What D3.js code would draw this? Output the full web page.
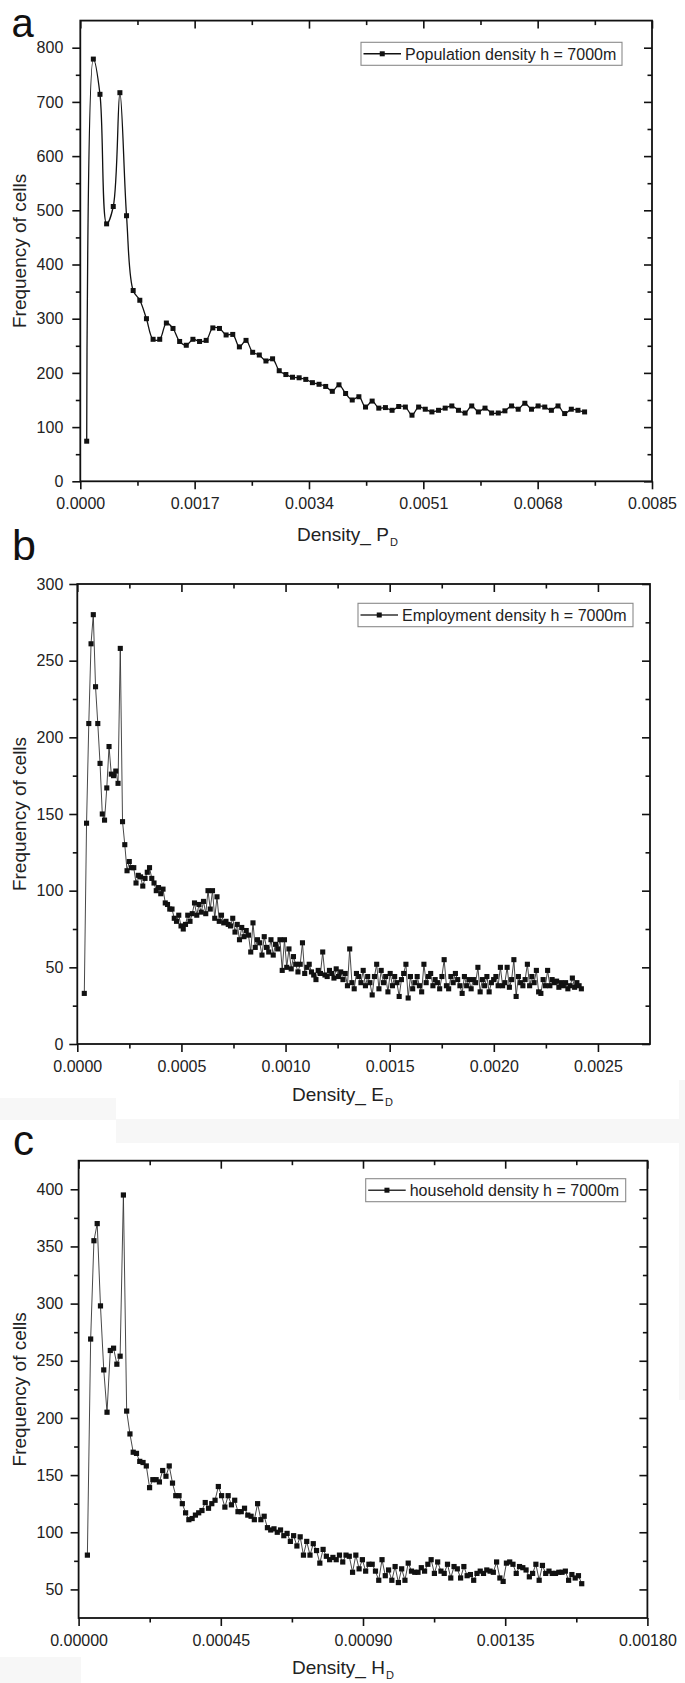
<!DOCTYPE html>
<html><head><meta charset="utf-8">
<script src="https://cdn.jsdelivr.net/npm/d3@7"></script>
<style>
body{margin:0;background:#fff;}
svg{display:block;font-family:"Liberation Sans",Arial,sans-serif;}
</style></head><body>
<svg id="chart" width="685" height="1683"></svg>
<script>
// ---------- Panel a : population density ----------
const popBinStart = 0.0000952;
const popBinWidth = 0.0000987;
const popFreq = [74, 779, 714, 475, 507, 717, 490, 352, 334, 300,
  262, 262, 292, 282, 258, 251, 262, 258, 260, 283,
  282, 270, 271, 248, 260, 238, 233, 222, 226, 204,
  197, 192, 191, 188, 182, 179, 175, 166, 178, 162,
  150, 156, 137, 148, 135, 136, 131, 138, 137, 122,
  137, 133, 128, 131, 135, 139, 131, 126, 139, 128,
  135, 126, 126, 130, 139, 133, 144, 133, 139, 137,
  131, 139, 125, 133, 131, 128];
const popXTicks = [0, 0.0017, 0.0034, 0.0051, 0.0068, 0.0085];
const popXTickLabels = ["0.0000", "0.0017", "0.0034", "0.0051", "0.0068", "0.0085"];
const popXMinor = [0.00085, 0.00255, 0.00425, 0.00595, 0.00765];
const popYTicks = [0, 100, 200, 300, 400, 500, 600, 700, 800];
const popYTickLabels = ["0", "100", "200", "300", "400", "500", "600", "700", "800"];
const popYMinor = [50, 150, 250, 350, 450, 550, 650, 750];
const popLegend = "Population density h = 7000m";

// ---------- Panel b : employment density ----------
const empBinStart = 0.0000336;
const empBinWidth = 0.0000108;
const empFreq = [33, 144, 209, 261, 280, 233, 209, 183, 150, 146,
  167, 194, 176, 175, 178, 170, 258, 145, 130, 113,
  119, 115, 115, 105, 110, 109, 103, 108, 112, 115,
  108, 105, 100, 102, 98, 101, 92, 91, 88, 88,
  82, 80, 84, 77, 75, 78, 84, 80, 85, 92,
  84, 91, 86, 93, 85, 100, 88, 100, 82, 96,
  80, 84, 79, 80, 78, 77, 82, 73, 78, 68,
  76, 70, 74, 71, 60, 79, 63, 68, 66, 58,
  70, 63, 60, 68, 58, 65, 62, 68, 48, 68,
  50, 62, 49, 57, 52, 47, 52, 66, 46, 50,
  52, 47, 45, 42, 48, 46, 60, 45, 44, 48,
  46, 43, 49, 44, 47, 42, 46, 38, 62, 40,
  36, 46, 44, 40, 48, 38, 44, 40, 32, 44,
  52, 36, 48, 40, 44, 34, 46, 38, 44, 40,
  31, 42, 46, 52, 30, 44, 36, 40, 44, 38,
  34, 52, 40, 44, 46, 38, 42, 40, 36, 44,
  55, 38, 36, 44, 40, 46, 42, 38, 33, 44,
  38, 42, 36, 42, 40, 50, 34, 42, 38, 44,
  34, 40, 42, 44, 38, 50, 38, 40, 50, 37,
  42, 55, 31, 44, 40, 38, 42, 52, 38, 44,
  40, 48, 34, 33, 42, 38, 48, 38, 42, 40,
  41, 37, 40, 38, 40, 36, 38, 43, 37, 40,
  38, 36];
const empXTicks = [0, 0.0005, 0.0010, 0.0015, 0.0020, 0.0025];
const empXTickLabels = ["0.0000", "0.0005", "0.0010", "0.0015", "0.0020", "0.0025"];
const empXMinor = [0.00025, 0.00075, 0.00125, 0.00175, 0.00225];
const empYTicks = [0, 50, 100, 150, 200, 250, 300];
const empYTickLabels = ["0", "50", "100", "150", "200", "250", "300"];
const empYMinor = [25, 75, 125, 175, 225, 275];
const empLegend = "Employment density h = 7000m";

// ---------- Panel c : household density ----------
const houseBinStart = 0.0000278;
const houseBinWidth = 0.00001036;
const houseFreq = [80, 269, 355, 370, 298, 242, 205, 259, 261, 247,
  254, 395, 206, 186, 170, 169, 162, 161, 158, 139,
  146, 146, 144, 154, 149, 158, 143, 132, 132, 125,
  117, 111, 112, 115, 117, 119, 126, 121, 125, 128,
  140, 132, 122, 132, 124, 128, 118, 118, 121, 115,
  114, 111, 125, 111, 114, 104, 102, 103, 100, 102,
  97, 99, 92, 97, 88, 96, 80, 92, 80, 90,
  84, 73, 85, 79, 76, 78, 76, 80, 74, 80,
  79, 65, 80, 68, 76, 66, 72, 72, 66, 58,
  76, 62, 67, 58, 70, 56, 68, 58, 73, 66,
  65, 65, 69, 66, 72, 76, 64, 74, 66, 64,
  72, 60, 70, 68, 60, 70, 62, 63, 58, 64,
  66, 64, 67, 66, 65, 74, 60, 57, 73, 74,
  72, 64, 70, 69, 67, 61, 64, 72, 58, 71,
  64, 66, 64, 64, 65, 65, 66, 58, 63, 60,
  62, 55];
const houseXTicks = [0, 0.00045, 0.00090, 0.00135, 0.00180];
const houseXTickLabels = ["0.00000", "0.00045", "0.00090", "0.00135", "0.00180"];
const houseXMinor = [0.000225, 0.000675, 0.001125, 0.001575];
const houseYTicks = [50, 100, 150, 200, 250, 300, 350, 400];
const houseYTickLabels = ["50", "100", "150", "200", "250", "300", "350", "400"];
const houseYMinor = [75, 125, 175, 225, 275, 325, 375];
const houseLegend = "household density h = 7000m";

const yTitle = "Frequency of cells";

// ---------- drawing ----------
const svg = d3.select("#chart");
svg.append("rect").attr("width", 685).attr("height", 1683).attr("fill", "#fff");
// faint scan patches of the composite image
const patch = "#f7f7f7";
svg.append("rect").attr("x", 0).attr("y", 1098).attr("width", 116).attr("height", 22).attr("fill", patch);
svg.append("rect").attr("x", 116).attr("y", 1119).attr("width", 569).attr("height", 24).attr("fill", patch);
svg.append("rect").attr("x", 679).attr("y", 1080).attr("width", 6).attr("height", 320).attr("fill", patch);
svg.append("rect").attr("x", 0).attr("y", 1657).attr("width", 81).attr("height", 26).attr("fill", patch);

function drawPanel(p) {
  const g = svg.append("g");
  const x = d3.scaleLinear().domain(p.xDomain).range([p.left, p.right]);
  const y = d3.scaleLinear().domain(p.yDomain).range([p.bottom, p.top]);
  const fontFam = '"Liberation Sans", Arial, sans-serif';

  const axes = g.append("g");
  axes.append("g").attr("transform", `translate(0,${p.bottom})`)
    .call(d3.axisBottom(x).tickValues(p.xTicks).tickFormat((d, i) => p.xLabels[i])
      .tickSize(8).tickSizeOuter(0).tickPadding(8.5));
  axes.append("g").attr("transform", `translate(0,${p.bottom})`)
    .call(d3.axisBottom(x).tickValues(p.xMinor).tickFormat("").tickSize(4.5).tickSizeOuter(0));
  axes.append("g").attr("transform", `translate(0,${p.top})`)
    .call(d3.axisBottom(x).tickValues(p.xTicks).tickFormat("").tickSize(8).tickSizeOuter(0));
  axes.append("g").attr("transform", `translate(0,${p.top})`)
    .call(d3.axisBottom(x).tickValues(p.xMinor).tickFormat("").tickSize(4.5).tickSizeOuter(0));
  axes.append("g").attr("transform", `translate(${p.left},0)`)
    .call(d3.axisLeft(y).tickValues(p.yTicks).tickFormat((d, i) => p.yLabels[i])
      .tickSize(8).tickSizeOuter(0).tickPadding(p.yPad));
  axes.append("g").attr("transform", `translate(${p.left},0)`)
    .call(d3.axisLeft(y).tickValues(p.yMinor).tickFormat("").tickSize(4.5).tickSizeOuter(0));
  axes.append("g").attr("transform", `translate(${p.right},0)`)
    .call(d3.axisLeft(y).tickValues(p.yTicks).tickFormat("").tickSize(8).tickSizeOuter(0));
  axes.append("g").attr("transform", `translate(${p.right},0)`)
    .call(d3.axisLeft(y).tickValues(p.yMinor).tickFormat("").tickSize(4.5).tickSizeOuter(0));
  axes.selectAll(".domain").remove();
  axes.selectAll(".tick line").attr("stroke", "#111").attr("stroke-width", 1.6);
  axes.selectAll("g").attr("font-family", fontFam).attr("font-size", 16);
  axes.selectAll(".tick text").attr("fill", "#222");

  g.append("rect").attr("x", p.left).attr("y", p.top)
    .attr("width", p.right - p.left).attr("height", p.bottom - p.top)
    .attr("fill", "none").attr("stroke", "#111").attr("stroke-width", 1.8);

  const pts = p.freq.map((v, i) => [p.binStart + i * p.binWidth, v]);
  g.append("path").datum(pts)
    .attr("d", d3.line().x(d => x(d[0])).y(d => y(d[1])).curve(p.curve))
    .attr("fill", "none").attr("stroke", p.lineColor).attr("stroke-width", p.lineWidth);
  const ms = p.markerSize;
  g.append("g").selectAll("rect").data(pts).join("rect")
    .attr("x", d => x(d[0]) - ms / 2).attr("y", d => y(d[1]) - ms / 2)
    .attr("width", ms).attr("height", ms).attr("fill", "#111");

  // legend
  const L = p.legend;
  g.append("rect").attr("x", L.x).attr("y", L.y).attr("width", L.w).attr("height", L.h)
    .attr("fill", "#fff").attr("stroke", "#8a8a8a").attr("stroke-width", 1.1);
  const cy = L.y + L.h / 2;
  g.append("line").attr("x1", L.x + 2.5).attr("x2", L.x + 40).attr("y1", cy).attr("y2", cy)
    .attr("stroke", p.lineColor).attr("stroke-width", 1.4);
  g.append("rect").attr("x", L.x + 21.25 - 2.5).attr("y", cy - 2.5).attr("width", 5).attr("height", 5).attr("fill", "#111");
  g.append("text").attr("x", L.x + 44).attr("y", cy + 5.7).attr("font-size", 16)
    .attr("fill", "#222").text(p.legendText);

  // y title
  g.append("text").attr("transform", `translate(${p.yTitleX},${(p.top + p.bottom) / 2}) rotate(-90)`)
    .attr("text-anchor", "middle").attr("font-size", 19).attr("fill", "#222").text(yTitle);

  // x title with subscript
  const t = g.append("text").attr("x", p.xTitleX).attr("y", p.xTitleY).attr("font-size", 19).attr("fill", "#222");
  t.append("tspan").text("Density_ " + p.xTitleMain);
  t.append("tspan").attr("font-size", 11).attr("dy", 5).attr("dx", 1).text("D");

  // panel letter
  g.append("text").attr("x", p.letterX).attr("y", p.letterY).attr("font-size", p.letterSize)
    .attr("fill", "#111").text(p.letter);
}

drawPanel({
  freq: popFreq, binStart: popBinStart, binWidth: popBinWidth,
  xDomain: [0, 0.0085], yDomain: [0, 850],
  left: 80.3, right: 652, top: 20.6, bottom: 481.3,
  xTicks: popXTicks, xLabels: popXTickLabels, xMinor: popXMinor,
  yTicks: popYTicks, yLabels: popYTickLabels, yMinor: popYMinor, yPad: 9,
  curve: d3.curveCatmullRom.alpha(0.5), lineColor: "#111", lineWidth: 1.3, markerSize: 5,
  legend: { x: 361, y: 42.3, w: 261, h: 23 }, legendText: popLegend,
  yTitleX: 25.5, xTitleX: 297, xTitleY: 540.5, xTitleMain: "P",
  letter: "a", letterX: 11.5, letterY: 36.5, letterSize: 40
});

drawPanel({
  freq: empFreq, binStart: empBinStart, binWidth: empBinWidth,
  xDomain: [0, 0.00275], yDomain: [0, 300],
  left: 77.3, right: 650, top: 584, bottom: 1044,
  xTicks: empXTicks, xLabels: empXTickLabels, xMinor: empXMinor,
  yTicks: empYTicks, yLabels: empYTickLabels, yMinor: empYMinor, yPad: 6,
  curve: d3.curveLinear, lineColor: "#333", lineWidth: 0.9, markerSize: 5.1,
  legend: { x: 358, y: 603.3, w: 275, h: 23.4 }, legendText: empLegend,
  yTitleX: 25.5, xTitleX: 292, xTitleY: 1101, xTitleMain: "E",
  letter: "b", letterX: 12, letterY: 560, letterSize: 43
});

drawPanel({
  freq: houseFreq, binStart: houseBinStart, binWidth: houseBinWidth,
  xDomain: [0, 0.0018], yDomain: [25, 425],
  left: 78.6, right: 647.4, top: 1160.7, bottom: 1618,
  xTicks: houseXTicks, xLabels: houseXTickLabels, xMinor: houseXMinor,
  yTicks: houseYTicks, yLabels: houseYTickLabels, yMinor: houseYMinor, yPad: 7.4,
  curve: d3.curveLinear, lineColor: "#333", lineWidth: 0.9, markerSize: 5.2,
  legend: { x: 365.7, y: 1178.7, w: 260, h: 23 }, legendText: houseLegend,
  yTitleX: 25.5, xTitleX: 292, xTitleY: 1674, xTitleMain: "H",
  letter: "c", letterX: 13, letterY: 1155, letterSize: 42
});
</script>
</body></html>
